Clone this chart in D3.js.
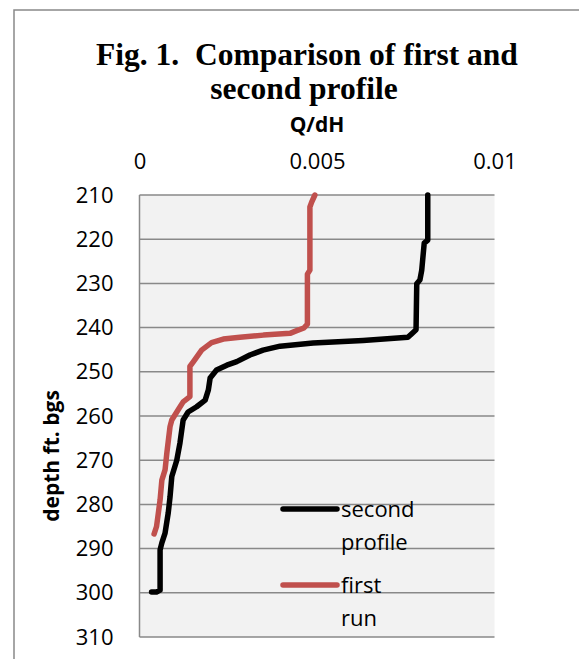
<!DOCTYPE html>
<html>
<head>
<meta charset="utf-8">
<script src="https://cdn.jsdelivr.net/npm/d3@7"></script>
<style>
    html, body { margin: 0; padding: 0; background: #ffffff; }
    #chart { width: 579px; height: 659px; overflow: hidden; }
    text { white-space: pre; }
</style>
</head>
<body>
<div id="chart"></div>
<script>
// depth (ft bgs) and Q/dH
let secondDepth = [210, 220.2, 220.9, 227, 229.2, 230.1, 240.5, 241.4, 242.2, 242.9, 243.5, 244.2, 245.1, 246.2, 247.7, 248.5, 249.6, 251.4, 254.1, 256.4, 257.9, 259.1, 260.9, 263.2, 266.1, 270, 273.7, 278.3, 281.9, 286.5, 288.7, 290.3, 299.4, 299.8, 299.8];
let secondValue = [0.00812, 0.00812, 0.00802, 0.00795, 0.00790, 0.00781, 0.00779, 0.00767, 0.00756, 0.00630, 0.00489, 0.00396, 0.00348, 0.00311, 0.00274, 0.00246, 0.00217, 0.00199, 0.00194, 0.00185, 0.00161, 0.00137, 0.00123, 0.00119, 0.00114, 0.00105, 0.00091, 0.00086, 0.00081, 0.00072, 0.00063, 0.00058, 0.00058, 0.00048, 0.00034];

let firstDepth = [210, 211.6, 212.7, 227, 227.9, 239.2, 240.1, 240.7, 241.3, 241.7, 242.2, 242.6, 243.4, 245.1, 247.7, 248.8, 255.6, 256.8, 258.6, 260.9, 262.4, 268.4, 272.2, 274.5, 279, 282, 285, 286.7];
let firstValue = [0.00494, 0.00485, 0.00480, 0.00480, 0.00473, 0.00473, 0.00463, 0.00443, 0.00424, 0.00349, 0.00283, 0.00236, 0.00203, 0.00175, 0.00152, 0.00142, 0.00142, 0.00123, 0.00109, 0.00091, 0.00086, 0.00077, 0.00072, 0.00063, 0.00058, 0.00053, 0.00048, 0.00041];

let xTicks = [0, 0.005, 0.01];
let yTicks = [210, 220, 230, 240, 250, 260, 270, 280, 290, 300, 310];
let seriesNames = ["second profile", "first run"];
let seriesColors = ["#000000", "#C0504D"];

let width = 579, height = 659;
let plot = {left: 139.5, right: 494.5, top: 195, bottom: 637};

let svg = d3.select("#chart")
    .append("svg")
    .attr("width", width)
    .attr("height", height);

// outer chart frame (larger than the window)
svg.append("rect")
    .attr("x", 14).attr("y", 10)
    .attr("width", 700).attr("height", 700)
    .attr("fill", "#ffffff")
    .attr("stroke", "#898989")
    .attr("stroke-width", 1.5);

let x = d3.scaleLinear().domain([0, 0.01]).range([plot.left, plot.right]);
let y = d3.scaleLinear().domain([210, 310]).range([plot.top, plot.bottom]);

// plot background
svg.append("rect")
    .attr("x", plot.left).attr("y", plot.top)
    .attr("width", plot.right - plot.left)
    .attr("height", plot.bottom - plot.top)
    .attr("fill", "#f2f2f2");

// horizontal gridlines
svg.append("g")
    .selectAll("line")
    .data(yTicks)
    .join("line")
    .attr("x1", plot.left).attr("x2", plot.right)
    .attr("y1", d => y(d)).attr("y2", d => y(d))
    .attr("stroke", "#898989")
    .attr("stroke-width", 1.5);

// left axis line
svg.append("line")
    .attr("x1", plot.left).attr("x2", plot.left)
    .attr("y1", plot.top).attr("y2", plot.bottom)
    .attr("stroke", "#898989")
    .attr("stroke-width", 1.5);

// y axis labels
let yAxis = svg.append("g")
    .attr("transform", "translate(" + (plot.left - 26) + ",0)")
    .call(d3.axisLeft(y).tickValues(yTicks).tickSize(0).tickPadding(0).tickFormat(d3.format("d")));
yAxis.select(".domain").remove();
yAxis.selectAll("text")
    .attr("font-family", "Open Sans")
    .attr("font-size", 22)
    .attr("fill", "#000");

// x axis labels on top
let xAxis = svg.append("g")
    .attr("transform", "translate(0,169)")
    .call(d3.axisTop(x).tickValues(xTicks).tickSize(0).tickPadding(0).tickFormat(d => d === 0 ? "0" : String(d)));
xAxis.select(".domain").remove();
xAxis.selectAll("text")
    .attr("dy", 0)
    .attr("font-family", "Open Sans")
    .attr("font-size", 22)
    .attr("fill", "#000");

// axis titles
svg.append("text")
    .attr("x", (plot.left + plot.right) / 2)
    .attr("y", 132)
    .attr("text-anchor", "middle")
    .attr("font-family", "Open Sans")
    .attr("font-weight", "bold")
    .attr("font-size", 21)
    .text("Q/dH");

svg.append("text")
    .attr("transform", "translate(59,456) rotate(-90)")
    .attr("text-anchor", "middle")
    .attr("font-family", "Open Sans")
    .attr("font-weight", "bold")
    .attr("font-size", 21)
    .text("depth ft. bgs");

// chart title
let title = svg.append("text")
    .attr("text-anchor", "middle")
    .attr("font-family", "Liberation Serif")
    .attr("font-weight", "bold")
    .attr("font-size", 31.5);
title.append("tspan").attr("x", 307).attr("y", 65).text("Fig. 1.  Comparison of first and");
title.append("tspan").attr("x", 304).attr("y", 99).text("second profile");

// the two profiles
let line = d3.line()
    .x(d => x(d[1]))
    .y(d => y(d[0]));

let series = [
    d3.zip(secondDepth, secondValue),
    d3.zip(firstDepth, firstValue)
];

svg.append("g")
    .selectAll("path")
    .data(series)
    .join("path")
    .attr("fill", "none")
    .attr("stroke", (d, i) => seriesColors[i])
    .attr("stroke-width", 5.5)
    .attr("stroke-linejoin", "round")
    .attr("stroke-linecap", "round")
    .attr("d", line);

// legend
let legendRows = [509, 585];
let legend = svg.append("g");
seriesNames.forEach(function (name, i) {
    legend.append("line")
        .attr("x1", 283).attr("x2", 337)
        .attr("y1", legendRows[i]).attr("y2", legendRows[i])
        .attr("stroke", seriesColors[i])
        .attr("stroke-width", 5.5)
        .attr("stroke-linecap", "round");
    let words = name.split(" ");
    let t = legend.append("text")
        .attr("font-family", "Open Sans")
        .attr("font-size", 22)
        .attr("fill", "#000");
    words.forEach(function (w, j) {
        t.append("tspan")
            .attr("x", 341)
            .attr("y", legendRows[i] + 8 + j * 33)
            .text(w);
    });
});
</script>
</body>
</html>
